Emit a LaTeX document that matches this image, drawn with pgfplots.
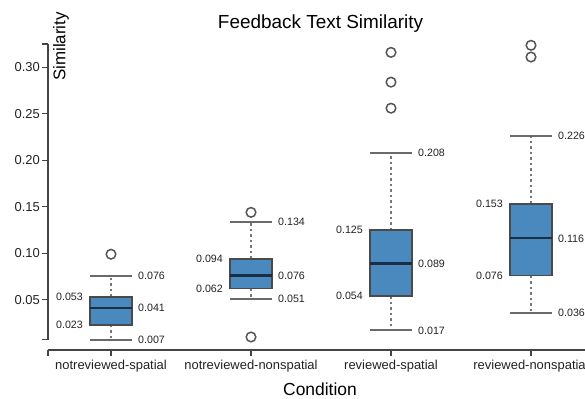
\documentclass[border=0pt]{standalone}
\usepackage{pgfplots}
\pgfplotsset{compat=1.18}
\usepgfplotslibrary{statistics}
\usepackage{fontspec}
\setmainfont{Liberation Sans}
\definecolor{steel}{HTML}{4A89BE}
\definecolor{boxdraw}{HTML}{4A4A4A}
\definecolor{meddraw}{HTML}{1A2F45}
\definecolor{whisk}{HTML}{777777}
\definecolor{capc}{HTML}{6A6A6A}
\definecolor{axisc}{HTML}{444444}
\definecolor{outc}{HTML}{555555}
\definecolor{txt}{HTML}{222222}
\begin{document}
\begin{tikzpicture}
\begin{axis}[
  at={(48bp,-350bp)}, anchor=south west,
  scale only axis, width=546bp, height=306bp,
  xmin=-0.45, xmax=3.45, ymin=-0.004, ymax=0.325,
  clip=false,
  axis x line*=bottom, axis y line*=left,
  y axis line style={draw=none},
  x axis line style={line width=1.2bp, draw=axisc},
  tick align=outside, major tick length=6bp,
  every tick/.style={line width=1.2bp, draw=axisc},
  xtick={0,1,2,3},
  xticklabels={notreviewed-spatial,notreviewed-nonspatial,reviewed-spatial,reviewed-nonspatial},
  extra x ticks={-0.45}, extra x tick style={xticklabel={}},
  ytick={0.05,0.1,0.15,0.2,0.25,0.3},
  yticklabel={\pgfmathprintnumber[fixed,fixed zerofill,precision=2]{\tick}},
  extra y ticks={0.007,0.325}, extra y tick style={yticklabel={}},
  /pgf/number format/assume math mode=true,
  tick label style={font=\fontsize{13}{15}\selectfont, text=txt},
  yticklabel style={inner sep=2bp},
  xticklabel style={inner sep=3.5bp},
  boxplot/draw direction=y,
  boxplot/box extend=0.3,
  boxplot/whisker extend=0,
  boxplot/every box/.style={fill=steel, draw=boxdraw, line width=1.5bp},
  boxplot/every median/.style={draw=meddraw, line width=2.2bp},
  boxplot/every whisker/.style={draw=whisk, line width=1.8bp, dash pattern=on 2.5bp off 3bp},
]
\draw[axisc, line width=1.2bp] (axis cs:-0.45,0.007) -- (axis cs:-0.45,0.325);

\addplot[boxplot prepared={draw direction=y, draw position=0, lower whisker=0.007, lower quartile=0.023, median=0.041, upper quartile=0.053, upper whisker=0.076}] coordinates {};
\addplot[boxplot prepared={draw direction=y, draw position=1, lower whisker=0.051, lower quartile=0.062, median=0.076, upper quartile=0.094, upper whisker=0.134}] coordinates {};
\addplot[boxplot prepared={draw direction=y, draw position=2, lower whisker=0.017, lower quartile=0.054, median=0.089, upper quartile=0.125, upper whisker=0.208}] coordinates {};
\addplot[boxplot prepared={draw direction=y, draw position=3, lower whisker=0.036, lower quartile=0.076, median=0.116, upper quartile=0.153, upper whisker=0.226}] coordinates {};

% whisker caps
\addplot[only marks, mark=-, mark size=21bp, mark options={draw=capc, line width=2bp}]
  coordinates {(0,0.007)(0,0.076)(1,0.051)(1,0.134)(2,0.017)(2,0.208)(3,0.036)(3,0.226)};

% outliers
\addplot[only marks, mark=o, mark size=4.8bp, mark options={draw=outc, line width=1.5bp, fill=white}]
  coordinates {(0,0.099)(1,0.144)(1,0.010)(2,0.316)(2,0.284)(2,0.256)(3,0.3236)(3,0.311)};

% value labels right
\addplot[draw=none, mark=none, point meta=explicit symbolic, nodes near coords,
  nodes near coords style={anchor=west, inner sep=0pt, xshift=27bp, font=\fontsize{10.7}{12}\selectfont, text=txt}]
  coordinates {(0,0.076)[0.076] (0,0.041)[0.041] (0,0.007)[0.007]
               (1,0.134)[0.134] (1,0.076)[0.076] (1,0.051)[0.051]
               (2,0.208)[0.208] (2,0.089)[0.089] (2,0.017)[0.017]
               (3,0.226)[0.226] (3,0.116)[0.116] (3,0.036)[0.036]};
% value labels left
\addplot[draw=none, mark=none, point meta=explicit symbolic, nodes near coords,
  nodes near coords style={anchor=east, inner sep=0pt, xshift=-28bp, font=\fontsize{10.7}{12}\selectfont, text=txt}]
  coordinates {(0,0.053)[0.053] (0,0.023)[0.023]
               (1,0.094)[0.094] (1,0.062)[0.062]
               (2,0.125)[0.125] (2,0.054)[0.054]
               (3,0.153)[0.153] (3,0.076)[0.076]};
\end{axis}
\node[anchor=base, inner sep=0pt, font=\fontsize{19}{22}\selectfont, text=black] at (320.5bp,-28bp) {Feedback Text Similarity};
\node[rotate=90, anchor=north east, inner sep=0pt, font=\fontsize{17}{20}\selectfont, text=black] at (53bp,-12bp) {Similarity};
\node[anchor=base, inner sep=0pt, font=\fontsize{17.5}{20}\selectfont, text=black] at (320bp,-395bp) {Condition};
\pgfresetboundingbox
\useasboundingbox (0,0) rectangle (585bp,-399bp);
\end{tikzpicture}
\end{document}
